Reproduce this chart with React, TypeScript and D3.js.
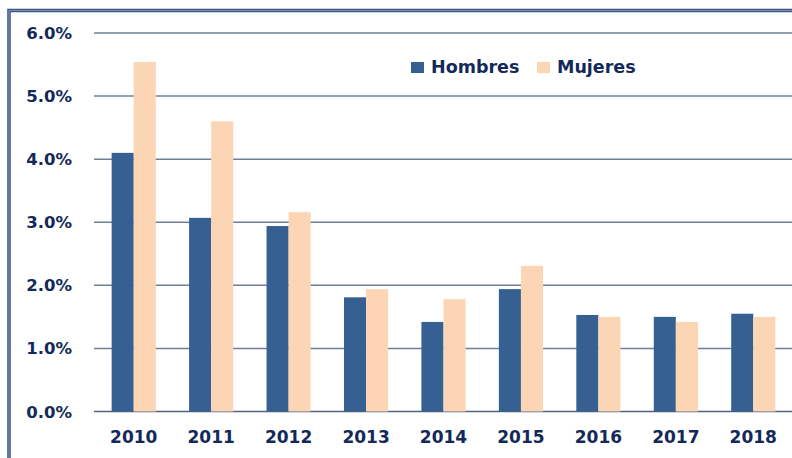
import React, { useEffect, useRef } from "react";
import * as d3 from "d3";

const years = ["2010", "2011", "2012", "2013", "2014", "2015", "2016", "2017", "2018"];
const hombres = [4.1, 3.07, 2.94, 1.81, 1.42, 1.94, 1.53, 1.5, 1.55];
const mujeres = [5.54, 4.6, 3.16, 1.94, 1.78, 2.31, 1.5, 1.42, 1.5];
const yTicks = [0, 1, 2, 3, 4, 5, 6];
const seriesNames = ["Hombres", "Mujeres"];
const seriesColors = ["#376092", "#FCD5B5"];

const App = () => {
  const svgRef = useRef<SVGSVGElement>(null);

  useEffect(() => {
    const svg = d3.select(svgRef.current);
    svg.selectAll("*").remove();

    const width = 792;
    const font = "'DejaVu Sans', Verdana, sans-serif";
    const textColor = "#12295a";

    const x = d3.scaleBand().domain(years).range([95, 792]).paddingInner(0.43).paddingOuter(0.215);
    const xSub = d3.scaleBand().domain(seriesNames).range([0, x.bandwidth()]);
    const y = d3.scaleLinear().domain([0, 6]).range([411.5, 33]);

    // frame
    svg.append("rect")
      .attr("x", 9).attr("y", 10.5).attr("width", 800).attr("height", 460)
      .attr("fill", "none").attr("stroke", "#3c4f78").attr("stroke-width", 3.5);
    svg.append("rect")
      .attr("x", 9).attr("y", 10.5).attr("width", 800).attr("height", 460)
      .attr("fill", "none").attr("stroke", "#7d90bd").attr("stroke-width", 1.2);

    // gridlines
    svg.append("g")
      .selectAll("line")
      .data(yTicks)
      .enter()
      .append("line")
      .attr("x1", 94).attr("x2", width)
      .attr("y1", (d) => y(d)).attr("y2", (d) => y(d))
      .attr("stroke", (d) => (d === 0 ? "#52627f" : "#6f7f99"))
      .attr("stroke-width", 1.5);

    // y labels
    svg.append("g")
      .selectAll("text")
      .data(yTicks)
      .enter()
      .append("text")
      .attr("x", 72)
      .attr("y", (d) => y(d) + 6)
      .attr("text-anchor", "end")
      .attr("font-family", font)
      .attr("font-weight", "bold")
      .attr("font-size", 16.5)
      .attr("fill", textColor)
      .text((d) => d3.format(".1f")(d) + "%");

    // bars
    const data = years.map((yr, i) => ({ yr, values: [hombres[i], mujeres[i]] }));
    svg.append("g")
      .selectAll("g")
      .data(data)
      .enter()
      .append("g")
      .attr("transform", (d) => `translate(${x(d.yr)},0)`)
      .selectAll("rect")
      .data((d) => d.values.map((v, j) => ({ name: seriesNames[j], v, j })))
      .enter()
      .append("rect")
      .attr("x", (d) => xSub(d.name)!)
      .attr("width", xSub.bandwidth())
      .attr("y", (d) => y(d.v))
      .attr("height", (d) => y(0) - y(d.v))
      .attr("fill", (d) => seriesColors[d.j]);

    // x labels
    svg.append("g")
      .selectAll("text")
      .data(years)
      .enter()
      .append("text")
      .attr("x", (d) => x(d)! + x.bandwidth() / 2)
      .attr("y", 443)
      .attr("text-anchor", "middle")
      .attr("font-family", font)
      .attr("font-weight", "bold")
      .attr("font-size", 17)
      .attr("fill", textColor)
      .text((d) => d);

    // legend
    const legendX = [411, 537];
    const legend = svg.append("g")
      .selectAll("g")
      .data(seriesNames)
      .enter()
      .append("g")
      .attr("transform", (d, i) => `translate(${legendX[i]},62)`);
    legend.append("rect")
      .attr("width", 13).attr("height", 11)
      .attr("fill", (d, i) => seriesColors[i]);
    legend.append("text")
      .attr("x", 20).attr("y", 11)
      .attr("font-family", font)
      .attr("font-weight", "bold")
      .attr("font-size", 17.5)
      .attr("fill", textColor)
      .text((d) => d);
  }, []);

  return (
    <div style={{ position: "fixed", left: 0, top: 0 }}>
      <svg ref={svgRef} width={792} height={458} style={{ display: "block", background: "#fff" }}></svg>
    </div>
  );
};

export default App;
